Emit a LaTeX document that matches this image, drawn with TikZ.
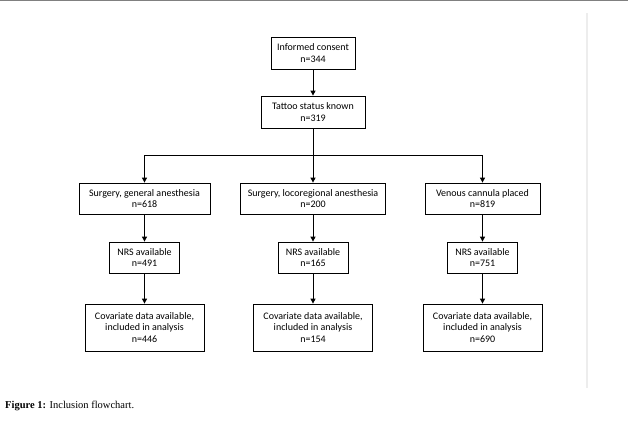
\documentclass[tikz,border=0pt]{standalone}
\usepackage{fontspec}
\setmainfont{Liberation Serif}
\newfontfamily\boxfont{Carlito}
\usetikzlibrary{arrows.meta}
\begin{document}
\begin{tikzpicture}[x=1pt,y=-1pt,
  flowbox/.style={draw=black, line width=0.8pt, align=center, inner sep=0pt,
    font=\boxfont\fontsize{10}{11.5}\selectfont},
  conn/.style={line width=1pt, -{Triangle[length=5pt,width=5pt]}},
  plain/.style={line width=1pt}]
\useasboundingbox (0,0) rectangle (628,428);
% page decorations
\draw[black!50, line width=1.5pt] (0,0.75) -- (628,0.75);
\draw[black!7, line width=2pt] (587,13) -- (587,388);
% nodes
\node[flowbox, minimum width=84pt, minimum height=32pt] (consent) at (313,53) {Informed consent\\n=344};
\node[flowbox, minimum width=104pt, minimum height=32pt] (tattoo) at (313,112) {Tattoo status known\\n=319};
\node[flowbox, minimum width=131pt, minimum height=31pt] (gen) at (144.5,198.5) {Surgery, general anesthesia\\n=618};
\node[flowbox, minimum width=145pt, minimum height=31pt] (loco) at (313,198.5) {Surgery, locoregional anesthesia\\n=200};
\node[flowbox, minimum width=115pt, minimum height=31pt] (ven) at (482.5,198.5) {Venous cannula placed\\n=819};
\node[flowbox, minimum width=70pt, minimum height=31pt] (nrsA) at (144.5,257.5) {NRS available\\n=491};
\node[flowbox, minimum width=70pt, minimum height=31pt] (nrsB) at (313,257.5) {NRS available\\n=165};
\node[flowbox, minimum width=70pt, minimum height=31pt] (nrsC) at (482.5,257.5) {NRS available\\n=751};
\node[flowbox, minimum width=119pt, minimum height=47pt] (covA) at (144.5,327.5) {Covariate data available,\\included in analysis\\n=446};
\node[flowbox, minimum width=119pt, minimum height=47pt] (covB) at (313,327.5) {Covariate data available,\\included in analysis\\n=154};
\node[flowbox, minimum width=119pt, minimum height=47pt] (covC) at (482.5,327.5) {Covariate data available,\\included in analysis\\n=690};
\coordinate (split) at (313,155);
% connectors
\draw[conn] (consent) -- (tattoo);
\draw[plain] (tattoo) -- (split);
\draw[conn] (split) -- (loco);
\draw[conn] (split) -| (gen.north);
\draw[conn] (split) -| (ven.north);
\draw[conn] (gen) -- (nrsA);
\draw[conn] (loco) -- (nrsB);
\draw[conn] (ven) -- (nrsC);
\draw[conn] (nrsA) -- (covA);
\draw[conn] (nrsB) -- (covB);
\draw[conn] (nrsC) -- (covC);
% caption
\node[anchor=base west, inner sep=0pt, font=\fontsize{10.5}{12}\selectfont] (caption) at (5,408) {\textbf{Figure 1:} Inclusion flowchart.};
\end{tikzpicture}
\end{document}
